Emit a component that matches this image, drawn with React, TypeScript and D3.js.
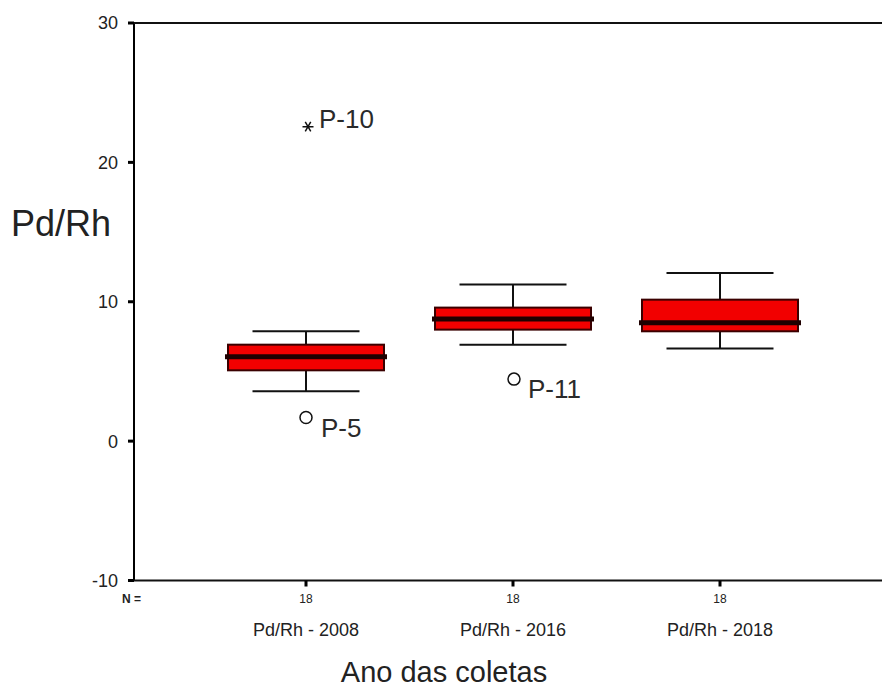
import React from "react";
import * as d3 from "d3";

// Box plot summary per sampling year (Pd/Rh ratio)
const categories = ["Pd/Rh - 2008", "Pd/Rh - 2016", "Pd/Rh - 2018"];
const q1 = [5.08, 8.0, 7.88];
const medians = [6.06, 8.77, 8.5];
const q3 = [6.92, 9.58, 10.15];
const whiskerLow = [3.57, 6.92, 6.64];
const whiskerHigh = [7.88, 11.23, 12.07];
const counts = [18, 18, 18];

// Outliers (circle) and extremes (asterisk)
const outlierCategory = ["Pd/Rh - 2008", "Pd/Rh - 2016"];
const outlierValue = [1.69, 4.45];
const outlierLabel = ["P-5", "P-11"];
const extremeCategory = ["Pd/Rh - 2008"];
const extremeValue = [22.56];
const extremeLabel = ["P-10"];

const yTicks = [30, 20, 10, 0, -10];
const yTitle = "Pd/Rh";
const xTitle = "Ano das coletas";

const W = 882;
const H = 689;
const font = "'Liberation Sans', Arial, sans-serif";

export default function App() {
  const left = 134;
  const right = W;
  const y = d3.scaleLinear().domain([-10, 30]).range([580.5, 23]);
  const x = d3.scalePoint<string>().domain(categories).range([306, 720]);
  const boxW = 156;
  const capW = 107;
  const textColor = "#222";

  const asterisk = (cx: number, cy: number, r: number) => {
    const arms = [0, 60, 120].map((a) => {
      const rad = (a * Math.PI) / 180;
      return `M${cx - r * Math.cos(rad)},${cy - r * Math.sin(rad)}L${cx + r * Math.cos(rad)},${cy + r * Math.sin(rad)}`;
    });
    return arms.join("");
  };

  return (
    <svg
      width={W}
      height={H}
      style={{ position: "absolute", left: 0, top: 0, background: "#fff" }}
      fontFamily={font}
    >
      <rect x={0} y={0} width={W} height={H} fill="#fff" />

      {/* frame */}
      <line x1={left} x2={left} y1={y(30)} y2={y(-10)} stroke="#000" strokeWidth={2} />
      <line x1={left} x2={right} y1={y(30)} y2={y(30)} stroke="#111" strokeWidth={2} />
      <line x1={left} x2={right} y1={y(-10)} y2={y(-10)} stroke="#111" strokeWidth={2} />

      {/* y ticks */}
      {yTicks.map((t) => (
        <g key={t}>
          <rect x={left - 6} y={y(t) - 1.5} width={6} height={3} fill="#000" />
          <text
            x={left - 16}
            y={y(t)}
            dy="0.36em"
            textAnchor="end"
            fontSize={18}
            fill={textColor}
          >
            {t}
          </text>
        </g>
      ))}

      {/* y title */}
      <text x={11} y={236} fontSize={36} fill={textColor}>
        {yTitle}
      </text>

      {/* boxes */}
      {categories.map((c, i) => {
        const cx = x(c) as number;
        return (
          <g key={c}>
            <line x1={cx} x2={cx} y1={y(whiskerHigh[i])} y2={y(q3[i])} stroke="#111" strokeWidth={2} />
            <line x1={cx} x2={cx} y1={y(q1[i])} y2={y(whiskerLow[i])} stroke="#111" strokeWidth={2} />
            <line x1={cx - capW / 2} x2={cx + capW / 2} y1={y(whiskerHigh[i])} y2={y(whiskerHigh[i])} stroke="#111" strokeWidth={2} />
            <line x1={cx - capW / 2} x2={cx + capW / 2} y1={y(whiskerLow[i])} y2={y(whiskerLow[i])} stroke="#111" strokeWidth={2} />
            <rect
              x={cx - boxW / 2}
              y={y(q3[i])}
              width={boxW}
              height={y(q1[i]) - y(q3[i])}
              fill="#f20000"
              stroke="#3a0000"
              strokeWidth={2}
            />
            <line
              x1={cx - boxW / 2 - 3}
              x2={cx + boxW / 2 + 3}
              y1={y(medians[i])}
              y2={y(medians[i])}
              stroke="#1e0000"
              strokeWidth={5}
            />
            {/* x tick + count */}
            <rect x={cx - 1.5} y={y(-10)} width={3} height={6} fill="#000" />
            <text x={cx} y={603} textAnchor="middle" fontSize={12} fill={textColor}>
              {counts[i]}
            </text>
            <text x={cx} y={636} textAnchor="middle" fontSize={18} fill={textColor}>
              {c}
            </text>
          </g>
        );
      })}

      {/* outliers */}
      {outlierValue.map((v, i) => {
        const cx = x(outlierCategory[i]) as number;
        const cy = y(v);
        return (
          <g key={outlierLabel[i]}>
            <circle cx={cx + (i === 1 ? 1 : 0)} cy={cy} r={6} fill="#fff" stroke="#111" strokeWidth={1.5} />
            <text x={cx + 15} y={cy + 19} fontSize={26} fill="#2a2a2a">
              {outlierLabel[i]}
            </text>
          </g>
        );
      })}

      {/* extremes */}
      {extremeValue.map((v, i) => {
        const cx = (x(extremeCategory[i]) as number) + 2;
        const cy = y(v);
        return (
          <g key={extremeLabel[i]}>
            <path d={asterisk(cx, cy, 5.5)} stroke="#111" strokeWidth={1.5} fill="none" />
            <text x={cx + 11} y={cy + 1} fontSize={26} fill="#2a2a2a">
              {extremeLabel[i]}
            </text>
          </g>
        );
      })}

      {/* N label */}
      <text x={122} y={603} fontSize={12} fontWeight="bold" fill={textColor}>
        N =
      </text>

      {/* x title */}
      <text x={444} y={682} textAnchor="middle" fontSize={29} fill={textColor}>
        {xTitle}
      </text>
    </svg>
  );
}
